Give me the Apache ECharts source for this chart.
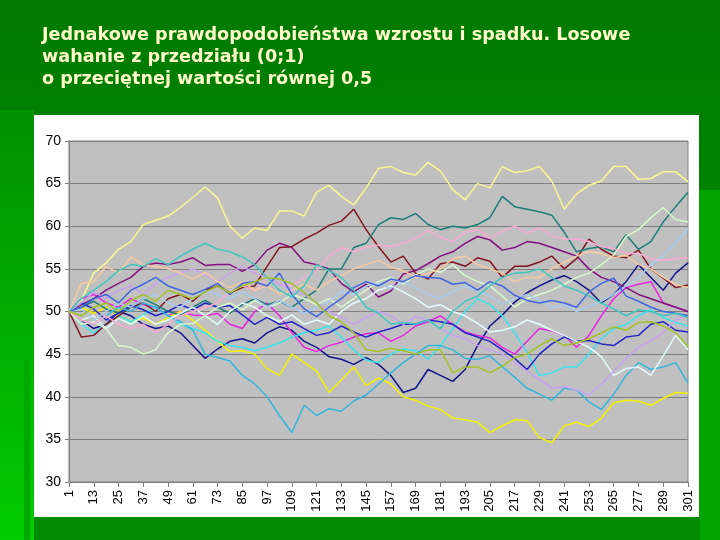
<!DOCTYPE html>
<html>
<head>
<meta charset="utf-8">
<script src="https://cdn.jsdelivr.net/npm/echarts@6/dist/echarts.min.js"></script>
<style>html,body{margin:0;padding:0;background:#008000;}#c{width:720px;height:540px;}</style>
</head>
<body>
<div id="c"></div>
<script>
// Category labels of the x axis (steps 1..301) and the sampled step positions
const xLabels = Array.from({length: 301}, (_, i) => String(i + 1));
const sampleIdx = Array.from({length: 51}, (_, k) => k * 6);

// Series values (one value every 6 steps)
const navy = [50,49,48,48.5,50,49.5,48.5,48,48.3,47.5,46,44.5,45.6,46.5,46.8,46.3,47.5,48.2,47.8,46.5,45.8,44.7,44.4,43.8,44.6,43.8,42.5,40.5,41,43.2,42.5,41.8,43.2,46,48.3,49.6,51.1,52.2,53,53.7,54.2,53.5,52.5,51,52,53.5,55.5,54,52.5,54.5,55.7];
const magenta = [50,51.5,52,51,50.5,51.5,50.8,50.5,49.5,50,49.6,49.5,49.8,48.5,48,50,51,49.5,47.5,45.8,45.3,46,46.4,47,47.4,47.5,46.5,47.2,48.3,48.8,49.5,48.5,47.6,47.2,46.9,45.8,45,46.5,48,47.7,47.2,45.8,47.2,49.5,51.5,52.8,53.2,53.5,51,50.5,50];
const yellow = [50,50.5,49.8,50.5,49.5,48.8,49.2,48.5,49.3,50,49,47.8,46.5,45.3,45.4,45,43.3,42.5,45,44,43,40.5,42,43.5,41.3,42.2,41.5,40,39.6,38.9,38.5,37.5,37.3,37,35.8,36.6,37.3,37.2,35.2,34.6,36.6,37,36.5,37.5,39.3,39.6,39.5,39,39.8,40.5,40.4];
const cyan = [50,48.5,47.5,48.5,49.5,48.8,49.6,50.5,49.5,48.5,48,47.5,46.5,46,45.8,45.4,45.8,46.3,47,47.5,47.8,48.3,47,45.5,44.3,44,45,45.6,45.4,44.4,46,48,50,51.5,50.8,49.5,47.5,45.2,42.5,42.8,43.5,43.5,45,46.8,48,48.5,49.5,50.2,49.3,48.7,48.3];
const purple = [50,50.8,51.5,52.5,53.3,54,55.3,55.7,55.5,55.8,56.3,55.4,55.5,55.5,54.7,55.5,57.2,58,57.5,55.8,55.5,55,53.3,52.3,53.2,51.7,52.4,54.4,54.8,55.6,56.5,57,58,58.8,58.4,57.2,57.5,58.2,58,57.5,57,56.5,55,54,53.5,52.8,52,51.5,51,50.5,50];
const maroon = [50,47,47.2,48.5,49.5,50.5,51,50,51.5,52,51.2,52.5,53,52.2,52.8,53,55.3,57.5,57.6,58.5,59.2,60.1,60.6,62,59.6,57.6,55.8,56.5,54.5,53.8,55.6,55.8,55.3,56.3,55.9,54,55.3,55.3,55.8,56.5,55,56.2,58.5,57.3,56.5,56.3,57.2,55,53.9,52.8,53.1];
const teal = [50,50.5,51.2,50.3,49.8,50.5,51.5,50.8,50,49.6,50.5,51.3,50.5,49.8,50.8,51.5,50.8,51.2,50.5,51.5,52.5,55,55,57.5,58,60.2,61,60.8,61.5,60.2,59.6,60,59.8,60.2,61,63.5,62.3,62,61.7,61.3,59.3,57,57.4,57.6,57,59,57.3,58.2,60.5,62.3,64];
const blue = [50,51,50.3,49,49.8,50.7,50.2,49.5,50,50.8,50.2,51,50.5,50.7,49.6,48.5,49.3,48.5,48.8,48,47.2,47.5,48.3,47.6,47,47.6,48,48.5,48.5,49,48.8,48.5,47.5,47,46.5,45.5,44.5,43.2,45,46.2,47,46.5,46.6,46.2,46,47,47.2,48.5,48.8,47.8,47.6];
const skyBlue = [50,49,48.5,49.5,50.5,50,51,50.5,49.5,48.8,47.8,45,44.6,44.2,42.5,41.5,40,37.8,35.8,39,37.8,38.6,38.3,39.5,40.2,41.5,42.8,44,45,46,46,45.5,44.5,44.4,44.8,43.5,42.3,41,40.3,39.6,41,40.8,39.4,38.5,40.3,42.5,44,43.2,43.5,44,41.6];
const lightTurquoise = [50,49,49.5,48,49.2,48.5,49.5,48.5,49,49.8,50.5,49.5,48.5,50,51,50.5,49.5,48.8,49.6,48.5,49,48.5,50,51,51.5,52.5,53,52.3,51.5,50.5,50.8,50,49.5,48.6,47.6,47.8,48.2,49,48.5,47.8,47.2,46.5,45.8,44.7,42.5,43.3,43.5,42.5,44.8,47.2,45.5];
const lightGreen = [50,48.5,48.8,48,46,45.8,45,45.5,47.5,48.5,48.6,49.5,50.5,51,50.2,51.3,50.5,51,52,51.5,50.8,51.5,50.5,51.5,52.5,53.5,54,53.2,54.3,55,54.6,55.5,54.2,53.5,53,51.8,50.5,51.5,52,52.5,53.2,54,54.5,55.5,56.6,58.8,59.6,61,62.2,60.8,60.5];
const paleYellow = [50,51.3,54.5,55.7,57.3,58.2,60.2,60.7,61.2,62.2,63.4,64.6,63.3,60,58.6,59.8,59.5,61.8,61.8,61.2,64,64.8,63.5,62.5,64.5,66.8,67,66.3,66,67.5,66.5,64.3,63.1,65,64.5,67,66.3,66.5,67,65.3,62,63.8,64.8,65.3,67,67,65.5,65.6,66.4,66.4,65.2];
const paleBlue = [50,50.3,49,50,51,50.5,51.5,52,51,50.5,51.5,52.5,52,51.5,52.3,51.5,50.5,51.3,50.5,49.8,50.5,51.2,52.3,52,53,53.3,52.7,53.5,52.8,52,51.5,52.3,53,52.4,51.8,50.8,51.5,52,51.3,50.5,50.8,50,50.6,51.2,52,53,54,55.5,56.5,58,59.7];
const rose = [50,49,48.5,49.5,48.5,48,48.5,47.5,48.5,49.5,50,50.5,51,52.3,53,52.5,53.8,53.2,53,54,54.8,56.5,57.5,57,57.5,57.8,57.6,58,58.6,59.5,58.7,58.2,59.3,59.6,58.6,59.4,60,59.2,59.8,58.9,58.5,58.5,58.2,57.6,57.4,56.8,56.8,56.2,56,56.2,56.3];
const lavender = [50,51,52.3,51.5,52.5,53,52,53.3,54,54.5,55,54.3,53.5,54.5,55.3,54.5,54,53.2,52.5,52,51,50,49.3,48.5,49.3,50,49.5,48.5,49.4,49,48,47.2,46.8,46,45.5,45,44,43,42,41,41.2,40.8,40.2,41.5,43,44.5,45.8,46.6,47.5,49,49.5];
const tan = [50,53.3,53.5,55.3,54.5,56.4,55.5,55.3,55,54.5,53.8,54.6,53.5,52.8,53.5,52.5,53,52,52.5,53.2,52.5,53.5,54.2,55,55.5,56,55.2,54.8,54,54.5,55,56.2,56.5,55.5,55,54.5,53.5,54,54,55,55.8,56.5,57,56.8,56.3,56.6,55.5,55,54,53.2,52.8];
const lightBlue = [50,50.5,51.5,52,51,52.5,53.2,54,53,52.5,52,52.6,53.3,52,53.3,53.5,53,54.5,52,50.3,49.4,50.5,51.5,52.8,53.5,53,53.8,53.5,54.2,54,53.9,53.2,53.4,52.5,53.5,53,51.9,51.3,51,51.3,51,50.5,52.3,53.3,53.9,51.8,51.2,50.5,50,49.8,49.5];
const aqua = [50,51.5,52.5,53.5,54.8,55.5,55.3,56.2,55.5,56.5,57.3,58,57.3,57,56.4,55.5,54,52.5,51.7,53,55.5,54.8,54,52.5,50.5,49.8,48.5,48.7,48.5,49,48,50,51.2,51.8,53,54,54.5,54.6,55,54,53,52.5,51.8,51,50.3,49.5,50.2,50,49.5,49.8,49.3];
const lime = [50,49.5,50.5,51,50,51.3,52,51.2,52.5,52,51.5,52.3,53,52.2,53,53.5,54,53.8,53.3,52.2,51,49.5,48.8,47.5,45.5,45.3,45.7,45.4,45,45.5,45.5,42.8,43.5,43.5,42.8,43.6,44.6,45,46,46.8,46,46.3,46.8,47.5,48.2,47.8,48.7,48.8,48.3,47.5,45.9];

const seriesList = [
  ['navy', navy, '#14148a'],
  ['magenta', magenta, '#e626e0'],
  ['yellow', yellow, '#f2f200'],
  ['cyan', cyan, '#3ae4ec'],
  ['purple', purple, '#82107e'],
  ['maroon', maroon, '#821424'],
  ['teal', teal, '#1c7e76'],
  ['blue', blue, '#2424c6'],
  ['skyBlue', skyBlue, '#34b6dc'],
  ['lightTurquoise', lightTurquoise, '#e4fcfc'],
  ['lightGreen', lightGreen, '#d8f8cc'],
  ['paleYellow', paleYellow, '#f8f890'],
  ['paleBlue', paleBlue, '#a8ccf0'],
  ['rose', rose, '#f8aad2'],
  ['lavender', lavender, '#c8a2f0'],
  ['tan', tan, '#f8caa0'],
  ['lightBlue', lightBlue, '#4066e0'],
  ['aqua', aqua, '#40c6c0'],
  ['lime', lime, '#a2c224']
];

const titleLines = ['Jednakowe prawdopodobieństwa wzrostu i spadku. Losowe', 'wahanie z przedziału (0;1)', 'o przeciętnej wartości równej 0,5'];

const chart = echarts.init(document.getElementById('c'), null, {renderer: 'canvas'});
chart.setOption({
  animation: false,
  backgroundColor: 'transparent',
  graphic: [
    {type: 'rect', z: -100, silent: true, shape: {x: 0, y: 0, width: 720, height: 540},
     style: {fill: new echarts.graphic.LinearGradient(0, 0, 0, 1, [{offset: 0, color: '#007a00'}, {offset: 1, color: '#009400'}])}},
    {type: 'rect', z: -99, silent: true, shape: {x: 0, y: 110, width: 34, height: 430},
     style: {fill: new echarts.graphic.LinearGradient(0, 0, 0, 1, [{offset: 0, color: '#009000'}, {offset: 1, color: '#00cc00'}])}},
    {type: 'rect', z: -98, silent: true, shape: {x: 24, y: 360, width: 6, height: 180}, style: {fill: '#00a800'}},
    {type: 'rect', z: -99, silent: true, shape: {x: 699, y: 190, width: 21, height: 350}, style: {fill: '#00a400'}},
    {type: 'rect', z: -99, silent: true, shape: {x: 34, y: 517, width: 666, height: 23}, style: {fill: '#008a00'}},
    {type: 'rect', z: -97, silent: true, shape: {x: 34, y: 115, width: 665, height: 402}, style: {fill: '#ffffff'}}
  ],
  title: {
    text: titleLines.join('\n'),
    left: 42, top: 24, padding: 0,
    textStyle: {color: '#ffffcc', fontFamily: 'DejaVu Sans', fontWeight: 'bold', fontSize: 17.6, lineHeight: 22}
  },
  grid: {left: 69, right: 32, top: 141, bottom: 58, show: true, backgroundColor: '#c0c0c0', borderColor: '#808080', borderWidth: 1},
  xAxis: {
    type: 'category', data: xLabels, boundaryGap: false,
    axisLine: {lineStyle: {color: '#808080', width: 1}},
    axisTick: {interval: 11, length: 5, lineStyle: {color: '#808080'}},
    axisLabel: {interval: 11, rotate: 90, margin: 8, color: '#000', fontSize: 13, fontFamily: 'Liberation Sans'},
    splitLine: {show: false}
  },
  yAxis: {
    type: 'value', min: 30, max: 70, interval: 5,
    axisLine: {show: true, lineStyle: {color: '#808080'}},
    axisTick: {show: true, length: 4, lineStyle: {color: '#808080'}},
    axisLabel: {color: '#000', fontSize: 14, margin: 8, fontFamily: 'Liberation Sans'},
    splitLine: {lineStyle: {color: '#808080', width: 1}}
  },
  series: seriesList.map(([name, vals, color]) => ({
    name, type: 'line', showSymbol: false, symbol: 'none',
    data: sampleIdx.map((x, i) => [x, vals[i]]),
    lineStyle: {color, width: 1.5},
    itemStyle: {color}
  }))
});
</script>
</body>
</html>
